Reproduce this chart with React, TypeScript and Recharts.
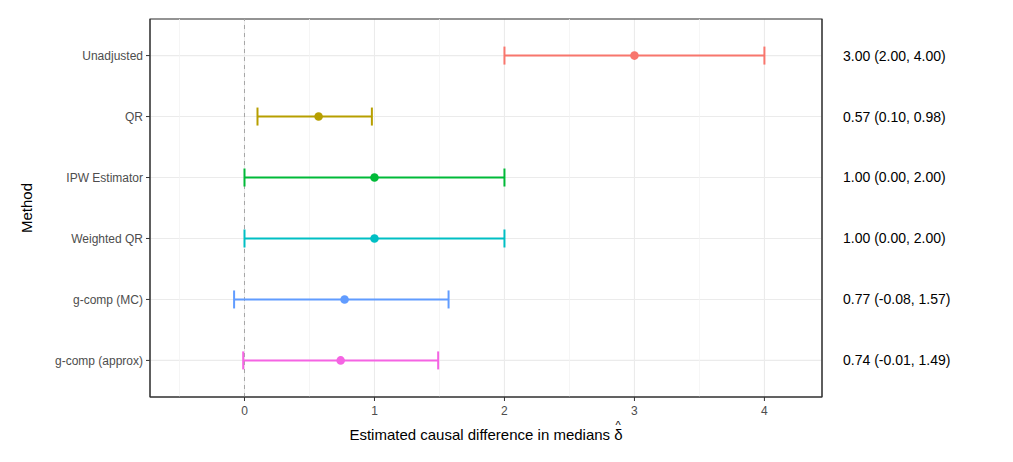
import React from "react";
import {
  ScatterChart,
  Scatter,
  XAxis,
  YAxis,
  CartesianGrid,
  ReferenceLine,
  ReferenceArea,
  ErrorBar,
  Label,
} from "recharts";

// one row per method, top to bottom as drawn
const methods = ["Unadjusted", "QR", "IPW Estimator", "Weighted QR", "g-comp (MC)", "g-comp (approx)"];
const estimates = [3.0, 0.57, 1.0, 1.0, 0.77, 0.74];
const lower = [2.0, 0.1, 0.0, 0.0, -0.08, -0.01];
const upper = [4.0, 0.98, 2.0, 2.0, 1.57, 1.49];
const colors = ["#F8766D", "#B79F00", "#00BA38", "#00BFC4", "#619CFF", "#F564E3"];

const xTicks = [0, 1, 2, 3, 4];
const xMinor = [-0.5, 0.5, 1.5, 2.5, 3.5];
const xDomain = [-0.727, 4.443];
const yDomain = [0.4, methods.length + 0.6];

const FONT = '"Liberation Sans", Arial, sans-serif';

// category slot: first method at the top
const slot = (i: number) => methods.length - i;
const yTicks = methods.map((_, i) => slot(i));
const indexOf = (v: number) => methods.length - v;

const rows = methods.map((m, i) => ({
  method: m,
  x: estimates[i],
  y: slot(i),
  err: [estimates[i] - lower[i], upper[i] - estimates[i]],
}));

const fmt = (v: number) => v.toFixed(2);

export default function App() {
  return (
    <div style={{ position: "absolute", left: 0, top: 0, background: "#fff" }}>
      <ScatterChart
        width={1013}
        height={462}
        margin={{ top: 19, right: 0, bottom: 0, left: 0 }}
        style={{ fontFamily: FONT }}
      >
        <CartesianGrid stroke="#EBEBEB" strokeWidth={1.1} />
        {xMinor.map((v) => (
          <ReferenceLine key={v} x={v} stroke="#F2F2F2" strokeWidth={0.8} />
        ))}
        <ReferenceLine x={0} stroke="#A6A6A6" strokeDasharray="4 4" strokeWidth={1} />
        <XAxis
          type="number"
          dataKey="x"
          domain={xDomain}
          ticks={xTicks}
          allowDataOverflow
          height={65}
          tickSize={4}
          tickMargin={5}
          stroke="#333333"
          tickLine={{ stroke: "#333333" }}
          tick={{ fill: "#4D4D4D", fontSize: 12 }}
          label={
            <Label
              content={({ viewBox }: any) => (
                <text
                  x={viewBox.x + viewBox.width / 2}
                  y={viewBox.y + 43}
                  textAnchor="middle"
                  fontSize={15}
                  fill="#000"
                >
                  <tspan>Estimated causal difference in medians δ</tspan>
                  <tspan dx={-7} dy={-11} fontSize={11}>
                    ^
                  </tspan>
                </text>
              )}
            />
          }
        />
        <YAxis
          type="number"
          dataKey="y"
          domain={yDomain}
          ticks={yTicks}
          allowDataOverflow
          width={150}
          tickSize={4}
          tickMargin={3}
          stroke="#333333"
          tickLine={{ stroke: "#333333" }}
          tick={{ fill: "#4D4D4D", fontSize: 12 }}
          tickFormatter={(v: number) => methods[indexOf(v)]}
          label={
            <Label
              content={({ viewBox }: any) => {
                const cx = viewBox.x + 27;
                const cy = viewBox.y + viewBox.height / 2;
                return (
                  <text
                    x={cx}
                    y={cy}
                    dy="0.35em"
                    textAnchor="middle"
                    fontSize={15}
                    fill="#000"
                    transform={`rotate(-90 ${cx} ${cy})`}
                  >
                    Method
                  </text>
                );
              }}
            />
          }
        />
        <YAxis
          yAxisId="right"
          orientation="right"
          type="number"
          domain={yDomain}
          ticks={yTicks}
          allowDataOverflow
          width={191}
          tickSize={0}
          tickMargin={21}
          tickLine={false}
          stroke="#333333"
          tick={{ fill: "#000", fontSize: 14, textAnchor: "start" }}
          tickFormatter={(v: number) => {
            const i = indexOf(v);
            return `${fmt(estimates[i])} (${fmt(lower[i])}, ${fmt(upper[i])})`;
          }}
        />
        {rows.map((r, i) => (
          <Scatter
            key={r.method}
            data={[r]}
            fill={colors[i]}
            isAnimationActive={false}
            shape={(p: any) => <circle cx={p.cx} cy={p.cy} r={4.3} fill={colors[i]} />}
          >
            <ErrorBar
              dataKey="err"
              direction="x"
              width={9}
              stroke={colors[i]}
              strokeWidth={2}
              isAnimationActive={false}
            />
          </Scatter>
        ))}
        {/* panel border */}
        <ReferenceArea
          x1={xDomain[0]}
          x2={xDomain[1]}
          y1={yDomain[0]}
          y2={yDomain[1]}
          fill="none"
          stroke="#333333"
          strokeWidth={1.1}
          ifOverflow="visible"
        />
      </ScatterChart>
    </div>
  );
}
